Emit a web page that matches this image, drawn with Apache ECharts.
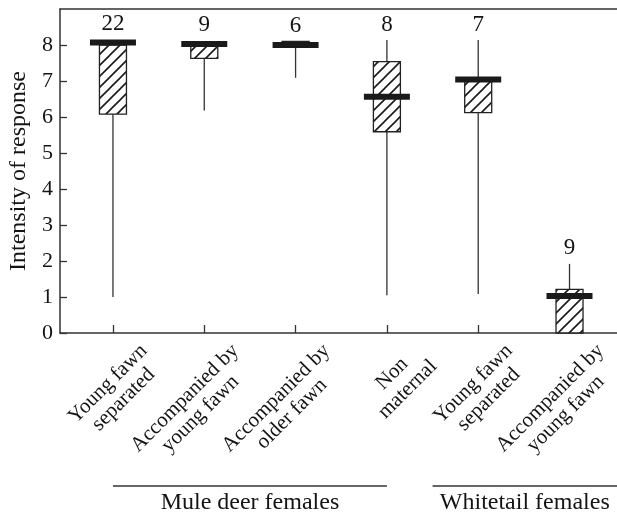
<!DOCTYPE html>
<html><head><meta charset="utf-8">
<script src="https://cdn.jsdelivr.net/npm/echarts@6/dist/echarts.min.js"></script>
<style>html,body{margin:0;padding:0;background:#fff}#c{width:617px;height:514px}</style>
</head><body><div id="c"></div>
<script>
// ---- data ----
const categories = ['Young fawn\nseparated', 'Accompanied by\nyoung fawn', 'Accompanied by\nolder fawn', 'Non\nmaternal', 'Young fawn\nseparated', 'Accompanied by\nyoung fawn'];
const whiskerLow  = [1.0, 6.18, 7.09, 1.05, 1.08, 0];
const boxLow      = [6.08, 7.63, 7.98, 5.59, 6.12, 0];
const medians     = [8.07, 8.03, 8.0, 6.56, 7.04, 1.03];
const boxHigh     = [8.0, 8.0, 8.1, 7.54, 7.0, 1.21];
const whiskerHigh = [8.0, 8.0, 8.1, 8.14, 8.14, 1.92];
const counts      = [22, 9, 6, 8, 7, 9];
const yTicks      = [0, 1, 2, 3, 4, 5, 6, 7, 8];
const groupNames  = ['Mule deer females', 'Whitetail females'];
const groupFrom   = [1, 4.5];
const groupTo     = [4, 6.52];

const FONT = '"Liberation Serif", "Times New Roman", serif';
const INK = '#141414';
const LINE = '#333';
const LABEL_SHIFT = 0.256; // rotated labels sit up-right of their tick

function makeHatch() {
  const s = 11;
  const c = document.createElement('canvas');
  c.width = s; c.height = s;
  const g = c.getContext('2d');
  g.strokeStyle = '#1a1a1a';
  g.lineWidth = 1.6;
  g.beginPath();
  g.moveTo(-2, s + 2); g.lineTo(s + 2, -2);
  g.moveTo(-2, 2); g.lineTo(2, -2);
  g.moveTo(s - 2, s + 2); g.lineTo(s + 2, s - 2);
  g.stroke();
  return c;
}
const hatch = makeHatch();

const boxData = categories.map((c, i) => [i + 1, whiskerLow[i], boxLow[i], medians[i], boxHigh[i], whiskerHigh[i], counts[i]]);
const groupData = groupNames.map((n, i) => [groupFrom[i], groupTo[i]]);
const positions = categories.map((c, i) => i + 1);
const labelPositions = positions.map(p => p + LABEL_SHIFT);

function renderBox(params, api) {
  const x = api.value(0);
  const pLo = api.coord([x, api.value(1)]);
  const pQ1 = api.coord([x, api.value(2)]);
  const pMed = api.coord([x, api.value(3)]);
  const pQ3 = api.coord([x, api.value(4)]);
  const pHi = api.coord([x, api.value(5)]);
  const cx = pLo[0];
  const bw = 27, mw = 46, mh = 6;
  const labelY = Math.min(pHi[1], pMed[1] - mh / 2) - 4;
  const boxShape = { x: cx - bw / 2, y: pQ3[1], width: bw, height: pQ1[1] - pQ3[1] };
  return {
    type: 'group',
    children: [
      { type: 'line', shape: { x1: cx, y1: pLo[1], x2: cx, y2: pHi[1] }, style: { stroke: LINE, lineWidth: 1.3 } },
      { type: 'rect', shape: boxShape, style: { fill: '#fff' } },
      { type: 'rect', shape: boxShape, style: { fill: { image: hatch, repeat: 'repeat' }, stroke: '#222', lineWidth: 1.3 } },
      { type: 'rect', shape: { x: cx - mw / 2, y: pMed[1] - mh / 2, width: mw, height: mh }, style: { fill: '#1a1a1a' } },
      { type: 'text', x: cx, y: labelY, style: { text: String(api.value(6)), fill: INK, fontSize: 23, fontFamily: FONT, align: 'center', verticalAlign: 'bottom' } }
    ]
  };
}

function renderGroup(params, api) {
  const a = api.coord([api.value(0), 0]);
  const b = api.coord([api.value(1), 0]);
  const y0 = a[1];
  return {
    type: 'group',
    children: [
      { type: 'line', shape: { x1: a[0], y1: y0 + 153, x2: b[0], y2: y0 + 153 }, style: { stroke: LINE, lineWidth: 1.3 } },
      { type: 'text', x: (a[0] + b[0]) / 2, y: y0 + 170, style: { text: groupNames[params.dataIndex], fill: INK, fontSize: 24, fontFamily: FONT, align: 'center', verticalAlign: 'middle' } }
    ]
  };
}

const chart = echarts.init(document.getElementById('c'), null, { renderer: 'canvas' });
chart.setOption({
  animation: false,
  backgroundColor: '#fff',
  grid: { left: 60, right: 0, top: 9, bottom: 181, containLabel: false, outerBoundsMode: 'none' },
  xAxis: [{
    type: 'value', min: 0.42, max: 6.52, position: 'bottom',
    axisLine: { show: true, lineStyle: { color: LINE, width: 1.5 } },
    axisTick: { show: true, inside: true, length: 8, customValues: positions, lineStyle: { color: LINE, width: 1.3 } },
    splitLine: { show: false },
    axisLabel: {
      show: true, customValues: labelPositions, rotate: 45, align: 'right', verticalAlign: 'top',
      margin: 7, hideOverlap: false, showMinLabel: true, showMaxLabel: true,
      fontSize: 21, fontFamily: FONT, color: INK, lineHeight: 22,
      formatter: function (v) {
        const i = Math.round(v - LABEL_SHIFT) - 1;
        return categories[i].split('\n').map(s => '{c|' + s + '}').join('\n');
      },
      rich: { c: { align: 'center', fontSize: 21, fontFamily: FONT, color: INK, lineHeight: 22 } }
    }
  }, {
    type: 'value', min: 0.42, max: 6.52, position: 'top',
    axisLine: { show: true, lineStyle: { color: LINE, width: 1.5 } },
    axisTick: { show: false }, axisLabel: { show: false }, splitLine: { show: false }
  }],
  yAxis: {
    type: 'value', min: 0, max: 9, interval: 1,
    name: 'Intensity of response', nameLocation: 'middle', nameGap: 28, nameRotate: 90,
    nameTextStyle: { fontSize: 24, fontFamily: FONT, color: INK },
    axisLine: { show: true, lineStyle: { color: LINE, width: 1.5 } },
    axisTick: { show: true, inside: true, length: 7, customValues: yTicks, lineStyle: { color: LINE, width: 1.3 } },
    axisLabel: { customValues: yTicks, showMinLabel: true, showMaxLabel: true, fontSize: 22, fontFamily: FONT, color: INK, margin: 7 },
    splitLine: { show: false }
  },
  series: [
    { type: 'custom', renderItem: renderBox, data: boxData, encode: { x: 0, y: [1, 2, 3, 4, 5] }, z: 5 },
    { type: 'custom', renderItem: renderGroup, data: groupData, encode: { x: [0, 1] }, clip: false, silent: true }
  ]
});
</script>
</body></html>
